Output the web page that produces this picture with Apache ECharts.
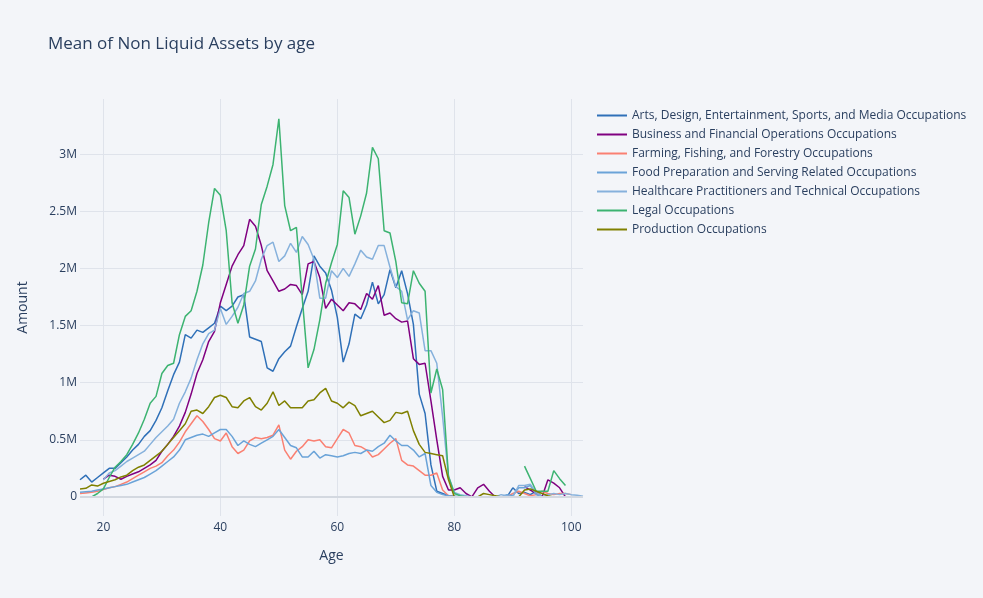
<!DOCTYPE html>
<html>
<head>
<meta charset="utf-8">
<title>Mean of Non Liquid Assets by age</title>
<script src="https://cdn.jsdelivr.net/npm/echarts@6/dist/echarts.min.js"></script>
<style>
  html, body { margin: 0; padding: 0; background: #f3f5f9; }
  #chart { width: 983px; height: 598px; }
</style>
</head>
<body>
<div id="chart"></div>
<script>
// ages 16..102
var ages = [16, 17, 18, 19, 20, 21, 22, 23, 24, 25, 26, 27, 28, 29, 30, 31, 32, 33, 34, 35,
  36, 37, 38, 39, 40, 41, 42, 43, 44, 45, 46, 47, 48, 49, 50, 51, 52, 53, 54, 55,
  56, 57, 58, 59, 60, 61, 62, 63, 64, 65, 66, 67, 68, 69, 70, 71, 72, 73, 74, 75,
  76, 77, 78, 79, 80, 81, 82, 83, 84, 85, 86, 87, 88, 89, 90, 91, 92, 93, 94, 95,
  96, 97, 98, 99, 100, 101, 102];

// mean non liquid assets, millions (null = no data)
var arts = [0.15, 0.19, 0.13, 0.17, 0.21, 0.25, 0.25, 0.30, 0.35, 0.41, 0.46, 0.53, 0.58, 0.67, 0.78, 0.93, 1.07, 1.18, 1.42, 1.39,
  1.46, 1.44, 1.48, 1.52, 1.67, 1.63, 1.67, 1.75, 1.77, 1.40, 1.38, 1.36, 1.13, 1.10, 1.21, 1.27, 1.32, 1.49, 1.65, 1.80,
  2.11, 2.02, 1.96, 1.81, 1.57, 1.18, 1.34, 1.60, 1.56, 1.68, 1.88, 1.69, 1.77, 1.99, 1.83, 1.98, 1.78, 1.51, 0.90, 0.73,
  0.28, 0.05, 0.03, 0.01, 0.005, 0, 0, 0, 0, 0, 0, 0, 0, 0, 0.08, 0.03, 0.04, 0.02, 0.05, 0,
  null, null, null, null, null, null, null];
var business = [null, null, null, null, 0.155, 0.19, 0.18, 0.155, 0.18, 0.20, 0.22, 0.25, 0.28, 0.32, 0.40, 0.46, 0.53, 0.62, 0.74, 0.90,
  1.08, 1.20, 1.36, 1.45, 1.70, 1.86, 2.02, 2.12, 2.20, 2.43, 2.37, 2.20, 1.98, 1.89, 1.80, 1.82, 1.86, 1.85, 1.77, 2.04,
  2.06, 1.92, 1.65, 1.73, 1.68, 1.63, 1.70, 1.69, 1.64, 1.78, 1.73, 1.85, 1.59, 1.61, 1.56, 1.53, 1.54, 1.21, 1.16, 1.17,
  0.84, 0.50, 0.18, 0.06, 0.06, 0.08, 0.03, 0, 0.08, 0.11, 0.05, 0, null, null, null, null, 0.09, 0.06, 0.03, 0,
  0.15, 0.12, 0.08, 0, 0, 0, null];
var farming = [0.03, 0.035, 0.04, 0.05, 0.065, 0.08, 0.09, 0.11, 0.13, 0.16, 0.19, 0.22, 0.25, 0.27, 0.30, 0.36, 0.41, 0.48, 0.57, 0.64,
  0.71, 0.66, 0.59, 0.51, 0.49, 0.56, 0.44, 0.38, 0.41, 0.49, 0.52, 0.51, 0.52, 0.54, 0.63, 0.41, 0.33, 0.40, 0.44, 0.50,
  0.49, 0.50, 0.44, 0.43, 0.51, 0.59, 0.56, 0.45, 0.44, 0.41, 0.35, 0.37, 0.42, 0.47, 0.51, 0.32, 0.28, 0.27, 0.23, 0.19,
  0.19, 0.21, 0.06, 0.01, 0, 0, 0, 0, 0, 0, 0, 0, 0, 0, 0.03, 0.05, 0.03, 0.01, 0.02, 0.05,
  0.03, 0.02, 0.03, 0.03, 0.02, null, null];
var foodPrep = [0.04, 0.045, 0.05, 0.06, 0.07, 0.08, 0.09, 0.10, 0.11, 0.13, 0.15, 0.17, 0.20, 0.23, 0.27, 0.31, 0.35, 0.41, 0.50, 0.52,
  0.54, 0.55, 0.53, 0.56, 0.59, 0.59, 0.53, 0.45, 0.49, 0.46, 0.44, 0.47, 0.50, 0.53, 0.59, 0.52, 0.45, 0.43, 0.35, 0.35,
  0.40, 0.34, 0.37, 0.36, 0.35, 0.36, 0.38, 0.39, 0.38, 0.41, 0.40, 0.44, 0.47, 0.54, 0.49, 0.45, 0.45, 0.41, 0.35, 0.38,
  0.10, 0.04, 0.02, 0.01, 0, 0, 0, 0, 0, 0, 0, 0, 0, 0.02, 0.01, 0.08, 0.08, 0.10, 0.02, 0,
  null, null, null, null, null, null, null];
var healthcare = [null, null, null, null, 0.15, 0.21, 0.23, 0.27, 0.31, 0.34, 0.37, 0.40, 0.46, 0.52, 0.57, 0.62, 0.68, 0.82, 0.92, 1.04,
  1.20, 1.34, 1.43, 1.46, 1.65, 1.51, 1.58, 1.66, 1.78, 1.80, 1.89, 2.08, 2.20, 2.23, 2.06, 2.11, 2.22, 2.14, 2.28, 2.21,
  2.08, 1.74, 1.74, 1.98, 1.92, 2.00, 1.93, 2.04, 2.16, 2.10, 2.08, 2.20, 2.20, 2.01, 1.84, 1.80, 1.55, 1.63, 1.61, 1.28,
  1.28, 1.17, 0.70, 0.18, 0.04, 0.02, 0.01, 0, 0, 0, 0, 0, 0.02, 0.01, 0, 0.10, 0.10, 0.11, 0.04, 0,
  0.02, 0.03, 0.02, 0.03, 0.02, 0.015, 0.005];
var legal = [null, null, 0, 0.03, 0.07, 0.17, 0.26, 0.31, 0.37, 0.46, 0.56, 0.68, 0.82, 0.88, 1.08, 1.15, 1.17, 1.42, 1.58, 1.63,
  1.80, 2.03, 2.40, 2.70, 2.64, 2.33, 1.70, 1.52, 1.68, 2.02, 2.17, 2.56, 2.72, 2.91, 3.31, 2.55, 2.33, 2.36, 1.74, 1.13,
  1.29, 1.55, 1.87, 2.05, 2.21, 2.68, 2.62, 2.30, 2.46, 2.66, 3.06, 2.96, 2.33, 2.31, 2.06, 1.70, 1.69, 1.98, 1.87, 1.80,
  0.91, 1.12, 0.94, 0.18, 0.03, 0.01, 0, 0, 0, 0, 0, 0, 0, 0, 0, null, 0.27, 0.16, 0.05, 0.05,
  0.05, 0.23, 0.16, 0.10, null, null, null];
var production = [0.07, 0.075, 0.105, 0.095, 0.12, 0.135, 0.15, 0.175, 0.19, 0.23, 0.26, 0.28, 0.32, 0.36, 0.40, 0.46, 0.52, 0.58, 0.64, 0.75,
  0.76, 0.73, 0.79, 0.87, 0.89, 0.87, 0.79, 0.78, 0.84, 0.87, 0.79, 0.76, 0.82, 0.92, 0.80, 0.84, 0.78, 0.78, 0.78, 0.84,
  0.85, 0.91, 0.95, 0.84, 0.82, 0.78, 0.83, 0.80, 0.71, 0.73, 0.75, 0.70, 0.65, 0.67, 0.74, 0.73, 0.75, 0.58, 0.46, 0.39,
  0.38, 0.37, 0.36, 0.15, 0, 0, 0, 0, 0, 0.03, 0.02, 0.01, 0, 0, 0, 0, 0.06, 0.07, 0.05, 0.03,
  0.01, 0, null, null, null, null, null];

var names = [
  'Arts, Design, Entertainment, Sports, and Media Occupations',
  'Business and Financial Operations Occupations',
  'Farming, Fishing, and Forestry Occupations',
  'Food Preparation and Serving Related Occupations',
  'Healthcare Practitioners and Technical Occupations',
  'Legal Occupations',
  'Production Occupations'
];
var colors = ['#2f70b8', '#800080', '#fa8072', '#6aa3d8', '#86b1dc', '#3cb371', '#808000'];
var values = [arts, business, farming, foodPrep, healthcare, legal, production];

var font = '"Open Sans", "Noto Sans", sans-serif';
var textColor = '#2a3f5f';
var gridColor = '#dfe3eb';

(function () {
  var myChart = echarts.init(document.getElementById('chart'));

  var series = values.map(function (vals, i) {
    var s = {
      name: names[i],
      type: 'line',
      showSymbol: false,
      connectNulls: false,
      lineStyle: { width: 1.5 },
      data: ages.map(function (a, j) { return [a, vals[j]]; })
    };
    // 零线
    if (i === 0) {
      s.markLine = {
        silent: true,
        symbol: ['none', 'none'],
        label: { show: false },
        lineStyle: { color: '#d3d8e0', width: 2, type: 'solid' },
        data: [{ yAxis: 0 }]
      };
    }
    return s;
  });

  var option = {
    animation: false,
    backgroundColor: '#f3f5f9',
    color: colors,
    title: {
      text: 'Mean of Non Liquid Assets by age',
      left: 43,
      top: 31,
      textStyle: { fontFamily: font, fontSize: 17, fontWeight: 'normal', color: textColor }
    },
    legend: {
      orient: 'vertical',
      left: 597,
      top: 106,
      padding: 0,
      icon: 'rect',
      itemWidth: 30,
      itemHeight: 2,
      itemGap: 0,
      textStyle: { fontFamily: font, fontSize: 12, color: textColor, lineHeight: 19 },
      data: names
    },
    grid: { left: 80, right: 400, top: 99, bottom: 82, containLabel: false },
    xAxis: {
      type: 'value',
      min: 16,
      max: 102,
      minInterval: 20,
      maxInterval: 20,
      name: 'Age',
      nameLocation: 'middle',
      nameGap: 33,
      nameTextStyle: { fontFamily: font, fontSize: 14, color: textColor },
      axisLine: { show: false },
      axisTick: { show: false },
      axisLabel: {
        fontFamily: font, fontSize: 12, color: textColor, margin: 6,
        showMinLabel: false, showMaxLabel: false
      },
      splitLine: { show: true, showMinLine: false, showMaxLine: false, lineStyle: { color: gridColor, width: 1 } }
    },
    yAxis: {
      type: 'value',
      min: -0.167,
      max: 3.483,
      minInterval: 0.5,
      maxInterval: 0.5,
      name: 'Amount',
      nameLocation: 'middle',
      nameGap: 50,
      nameTextStyle: { fontFamily: font, fontSize: 14, color: textColor },
      axisLine: { show: false },
      axisTick: { show: false },
      axisLabel: {
        fontFamily: font, fontSize: 12, color: textColor, margin: 3,
        showMinLabel: false, showMaxLabel: false,
        formatter: function (v) {
          if (Math.abs(v) < 1e-9) return '0';
          return (Math.round(v * 10) / 10) + 'M';
        }
      },
      splitLine: { show: true, showMinLine: false, showMaxLine: false, lineStyle: { color: gridColor, width: 1 } }
    },
    series: series
  };
  myChart.setOption(option);
})();
</script>
</body>
</html>
